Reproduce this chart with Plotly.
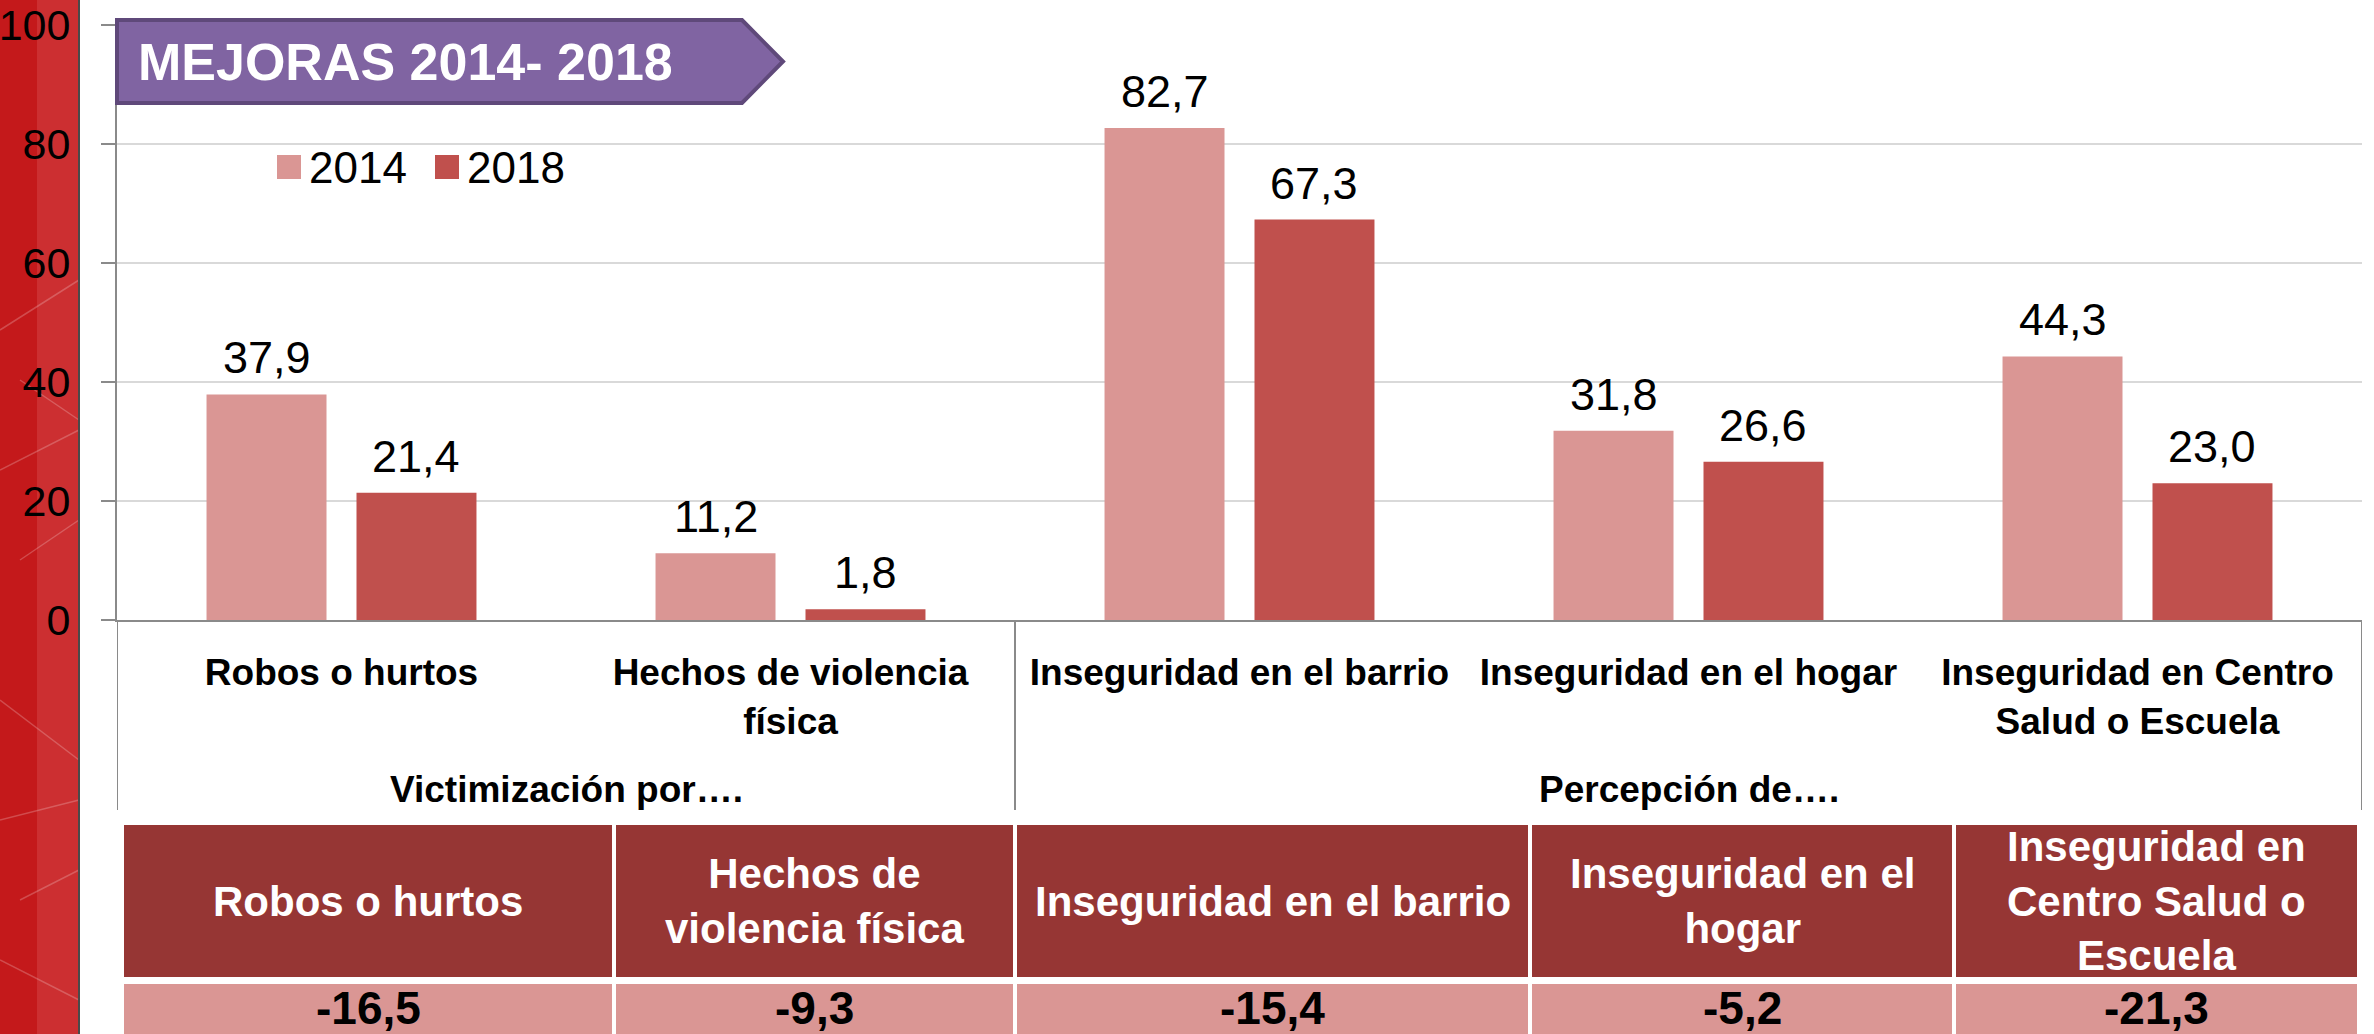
import plotly.graph_objects as go

# ---------------- data ----------------
categories = ["Robos o hurtos", "Hechos de violencia física", "Inseguridad en el barrio",
              "Inseguridad en el hogar", "Inseguridad en Centro Salud o Escuela"]
tick_labels = ["Robos o hurtos", "Hechos de violencia<br>física", "Inseguridad en el barrio",
               "Inseguridad en el hogar", "Inseguridad en Centro<br>Salud o Escuela"]
series_names = ["2014", "2018"]
values_2014 = [37.9, 11.2, 82.7, 31.8, 44.3]
values_2018 = [21.4, 1.8, 67.3, 26.6, 23.0]
group_labels = ["Victimización por….", "Percepción de…."]
group_first = [0, 2]
group_last = [1, 4]
table_headers = ["Robos o hurtos", "Hechos de<br>violencia física", "Inseguridad en el barrio",
                 "Inseguridad en el<br>hogar", "Inseguridad en<br>Centro Salud o<br>Escuela"]
table_values = [-16.5, -9.3, -15.4, -5.2, -21.3]
title_text = "MEJORAS 2014- 2018"
y_ticks = [0, 20, 40, 60, 80, 100]

# ---------------- style ----------------
W, H = 2374, 1034
C2014, C2018 = "#DA9694", "#C0504D"
HEAD = "#963634"
PURPLE, PURPLE_EDGE = "#8064A2", "#5F497A"
NARROW = "Liberation Sans Narrow, Arial Narrow, Liberation Sans, sans-serif"
SANS = "Liberation Sans, Arial, sans-serif"
PL, PR, PT, PB = 117, 2362, 25, 620
BARGAP = 0.332


def px(x):
    return x / W


def py(y):
    return 1 - y / H


def fmt(v):
    return f"{v:.1f}".replace(".", ",")


fig = go.Figure()
for name, vals, col in [(series_names[0], values_2014, C2014), (series_names[1], values_2018, C2018)]:
    fig.add_trace(go.Bar(name=name, x=categories, y=vals, marker=dict(color=col, line=dict(width=0)),
                         showlegend=False, hoverinfo="x+y+name"))

shapes = []
annotations = []

# left red decorative strip
shapes.append(dict(type="rect", xref="paper", yref="paper", x0=0, x1=px(37), y0=-0.05, y1=1.05,
                   fillcolor="#C4191B", line=dict(width=0), layer="below"))
shapes.append(dict(type="rect", xref="paper", yref="paper", x0=px(37), x1=px(79), y0=-0.05, y1=1.05,
                   fillcolor="#CC2F31", line=dict(width=0), layer="below"))
deco = [((0, 330), (79, 280)), ((20, 380), (79, 420)), ((0, 470), (79, 430)), ((20, 560), (79, 520)),
        ((0, 700), (79, 760)), ((0, 820), (79, 800)), ((20, 900), (79, 870)), ((0, 960), (79, 1000))]
for (xa, ya), (xb, yb) in deco:
    shapes.append(dict(type="line", xref="paper", yref="paper", x0=px(xa), y0=py(ya), x1=px(xb), y1=py(yb),
                       line=dict(color="rgba(255,255,255,0.22)", width=1.5), layer="below"))
shapes.append(dict(type="line", xref="paper", yref="paper", x0=px(79), x1=px(79), y0=0, y1=1,
                   line=dict(color="#4a4a4a", width=2)))

# axis extension & group dividers
divider_y0 = py(810)
axis_y = py(PB)
for xb in [-0.5, 1.5, 4.5]:
    shapes.append(dict(type="line", xref="x", yref="paper", x0=xb, x1=xb, y0=divider_y0, y1=axis_y,
                       line=dict(color="#8a8a8a", width=2)))

# group labels
for lab, a, b in zip(group_labels, group_first, group_last):
    annotations.append(dict(x=(a + b) / 2, xref="x", y=py(789), yref="paper", text=lab, showarrow=False,
                            font=dict(family=SANS, size=37, color="black", weight="bold"),
                            xanchor="center", yanchor="middle"))

# data labels
off = (1 - BARGAP) / 4
for vals, sgn in [(values_2014, -1), (values_2018, 1)]:
    for i, v in enumerate(vals):
        annotations.append(dict(x=i + sgn * off, xref="x", y=v, yref="y", text=fmt(v), showarrow=False,
                                yanchor="bottom", yshift=9,
                                font=dict(family=NARROW, size=45, color="black")))

# title banner
bx0, bx1, bx2 = px(117), px(742), px(783)
byt, byb, bym = py(20), py(103), py(61.5)
shapes.append(dict(type="path", xref="paper", yref="paper",
                   path=f"M{bx0},{byt} L{bx1},{byt} L{bx2},{bym} L{bx1},{byb} L{bx0},{byb} Z",
                   fillcolor=PURPLE, line=dict(color=PURPLE_EDGE, width=4)))
annotations.append(dict(x=px(136), y=bym, xref="paper", yref="paper", text=title_text, showarrow=False,
                        xanchor="left", yanchor="middle",
                        font=dict(family=SANS, size=52, color="white", weight="bold")))

# legend (manual)
leg = [(277, series_names[0], C2014), (435, series_names[1], C2018)]
for lx, name, col in leg:
    shapes.append(dict(type="rect", xref="paper", yref="paper", x0=px(lx), x1=px(lx + 24),
                       y0=py(179), y1=py(155), fillcolor=col, line=dict(width=0)))
    annotations.append(dict(x=px(lx + 30), y=py(167), xref="paper", yref="paper", text=name,
                            showarrow=False, xanchor="left", yanchor="middle",
                            font=dict(family=NARROW, size=44, color="black")))

# summary table
col_edges = [(124, 612), (616, 1013), (1017, 1528), (1532, 1952), (1956, 2357)]
for (cx0, cx1), head, val in zip(col_edges, table_headers, table_values):
    shapes.append(dict(type="rect", xref="paper", yref="paper", x0=px(cx0), x1=px(cx1),
                       y0=py(977), y1=py(825), fillcolor=HEAD, line=dict(width=0)))
    shapes.append(dict(type="rect", xref="paper", yref="paper", x0=px(cx0), x1=px(cx1),
                       y0=py(1060), y1=py(984), fillcolor=C2014, line=dict(width=0)))
    cx = px((cx0 + cx1) / 2)
    annotations.append(dict(x=cx, y=py(901), xref="paper", yref="paper", text=head, showarrow=False,
                            xanchor="center", yanchor="middle", align="center",
                            font=dict(family=SANS, size=42, color="white", weight="bold")))
    annotations.append(dict(x=cx, y=py(1008), xref="paper", yref="paper", text=fmt(val), showarrow=False,
                            xanchor="center", yanchor="middle",
                            font=dict(family=SANS, size=46, color="black", weight="bold")))

fig.update_layout(
    width=W, height=H,
    margin=dict(l=0, r=0, t=0, b=0),
    paper_bgcolor="white", plot_bgcolor="white",
    barmode="group", bargap=BARGAP, bargroupgap=0.2,
    separators=",.",
    showlegend=False,
    shapes=shapes, annotations=annotations,
    xaxis=dict(domain=[px(PL), px(PR)], range=[-0.5, len(categories) - 0.5], autorange=False,
               tickmode="array", tickvals=categories, ticktext=tick_labels,
               showline=True, linecolor="#8a8a8a", linewidth=2, ticks="", showgrid=False,
               tickfont=dict(family=SANS, size=37, color="black", weight="bold"),
               ticklabelstandoff=19, automargin=False),
    yaxis=dict(domain=[py(PB), py(PT)], range=[0, 100], autorange=False, tickvals=y_ticks,
               showline=True, linecolor="#8a8a8a", linewidth=2,
               ticks="outside", ticklen=14, tickwidth=2, tickcolor="#8a8a8a",
               showgrid=True, gridcolor="#D9D9D9", gridwidth=2, zeroline=False,
               tickfont=dict(family=NARROW, size=43, color="black"),
               ticklabelstandoff=22, ticklabeloverflow="allow", automargin=False),
)

fig.write_html("out.html", config={"displayModeBar": False},
               post_script="document.body.style.margin='0';document.body.style.overflow='hidden';")
